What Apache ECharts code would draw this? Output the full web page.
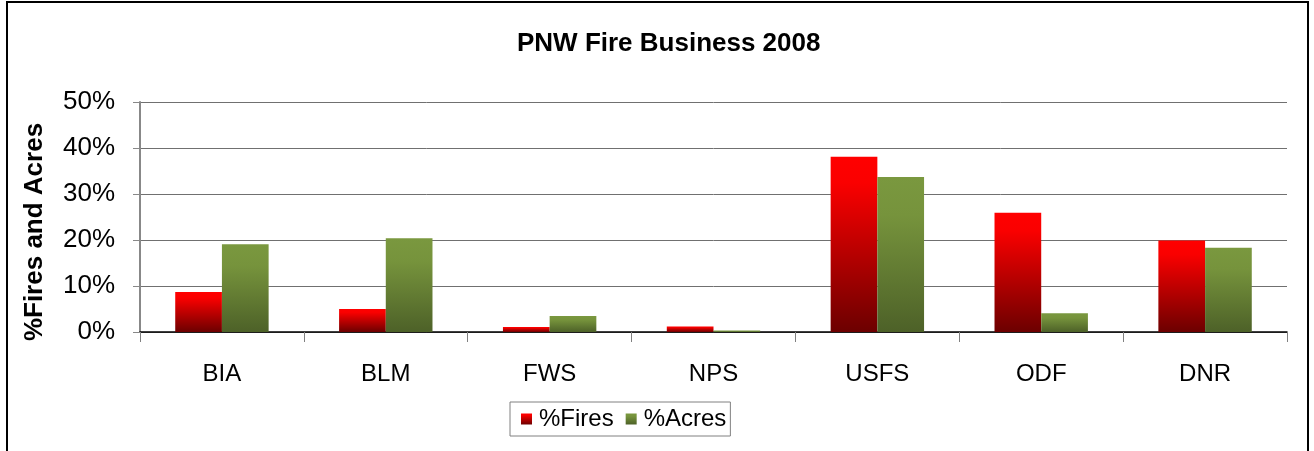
<!DOCTYPE html>
<html>
<head>
<meta charset="utf-8">
<script src="https://cdn.jsdelivr.net/npm/echarts@6/dist/echarts.min.js"></script>
<style>
  html, body { margin: 0; padding: 0; background: #fff; }
  #chart { width: 1314px; height: 451px; }
</style>
</head>
<body>
<div id="chart"></div>
<script>
// agencies along the x axis
const categories = ['BIA', 'BLM', 'FWS', 'NPS', 'USFS', 'ODF', 'DNR'];
// percent of fires / acres
const firesPct = [8.7, 5.0, 1.1, 1.2, 38.1, 25.9, 19.9];
const acresPct = [19.1, 20.4, 3.5, 0.3, 33.7, 4.1, 18.3];
const yTicks = [0, 10, 20, 30, 40, 50];

const chart = echarts.init(document.getElementById('chart'));

const redFill = new echarts.graphic.LinearGradient(0, 0, 0, 1, [
    { offset: 0, color: '#ff0000' },
    { offset: 0.15, color: '#fa0000' },
    { offset: 1, color: '#6c0000' }
]);
const greenFill = new echarts.graphic.LinearGradient(0, 0, 0, 1, [
    { offset: 0, color: '#7a983f' },
    { offset: 0.25, color: '#76933c' },
    { offset: 1, color: '#4d6128' }
]);

const option = {
    animation: false,
    textStyle: { fontFamily: 'Liberation Sans, Arial, sans-serif' },
    graphic: [
        {
            type: 'rect',
            shape: { x: 7, y: 2, width: 1301, height: 470 },
            style: { fill: 'none', stroke: '#000', lineWidth: 2 },
            silent: true
        }
    ],
    title: {
        text: 'PNW Fire Business 2008',
        left: 512,
        top: 26,
        textStyle: { fontSize: 26, fontWeight: 'bold', color: '#000' }
    },
    legend: {
        data: ['%Fires', '%Acres'],
        left: 510,
        top: 402,
        icon: 'rect',
        itemWidth: 11,
        itemHeight: 11,
        itemGap: 12,
        borderColor: '#808080',
        borderWidth: 1,
        padding: [5, 4, 5, 11],
        textStyle: { fontSize: 24, color: '#000', padding: [0, 0, 0, 2] }
    },
    grid: { left: 140, right: 27, top: 102, bottom: 119 },
    xAxis: {
        type: 'category',
        data: categories,
        axisLine: { lineStyle: { color: '#000', width: 1.5 } },
        axisTick: { show: true, length: 10, lineStyle: { color: '#808080' } },
        axisLabel: { fontSize: 24, color: '#000', margin: 30 }
    },
    yAxis: {
        type: 'value',
        min: yTicks[0],
        max: yTicks[yTicks.length - 1],
        interval: 10,
        name: '%Fires and Acres',
        nameLocation: 'middle',
        nameGap: 92,
        nameTextStyle: { fontSize: 26, fontWeight: 'bold', color: '#000', padding: [0, 30, 0, 0] },
        axisLine: { show: true, lineStyle: { color: '#888', width: 2 } },
        axisTick: { show: true, length: 7, lineStyle: { color: '#888' } },
        axisLabel: { fontSize: 26, color: '#000', margin: 25, formatter: '{value}%' },
        splitLine: { lineStyle: { color: '#707070', width: 1 } }
    },
    series: [
        {
            name: '%Fires',
            type: 'bar',
            data: firesPct,
            barGap: '0%',
            barCategoryGap: '43%',
            itemStyle: { color: redFill }
        },
        {
            name: '%Acres',
            type: 'bar',
            data: acresPct,
            itemStyle: { color: greenFill }
        }
    ]
};

chart.setOption(option);
</script>
</body>
</html>
